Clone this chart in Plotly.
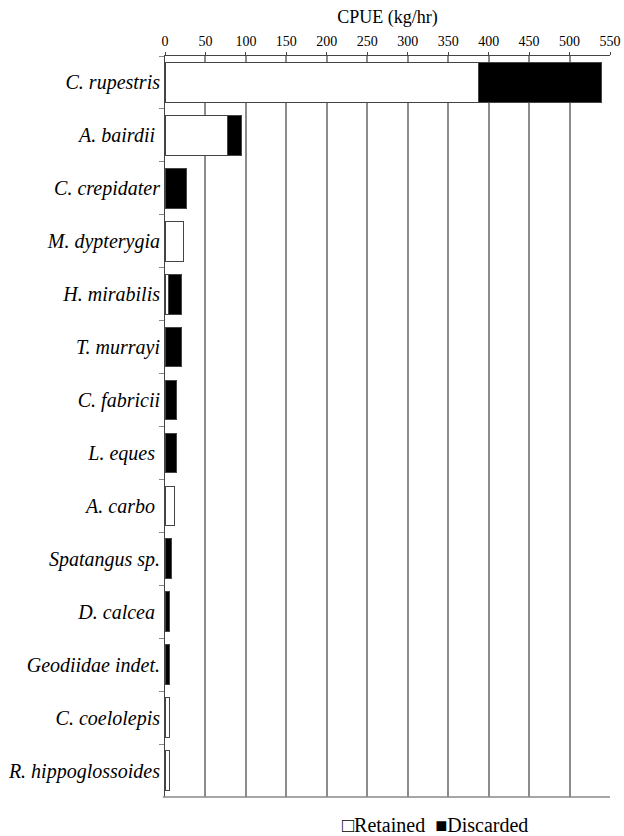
import plotly.graph_objects as go

# Catch per unit effort by species, split into retained and discarded catch
species = [
    "C. rupestris", "A. bairdii\u00a0", "C. crepidater", "M. dypterygia",
    "H. mirabilis", "T. murrayi", "C. fabricii", "L. eques\u00a0",
    "A. carbo\u00a0", "Spatangus sp.", "D. calcea\u00a0", "Geodiidae indet.",
    "C. coelolepis", "R. hippoglossoides",
]
retained = [388, 77, 0, 23, 4, 0, 0, 0, 12, 0, 0, 0, 6, 5]
discarded = [152, 18, 27, 0, 16, 20, 14.5, 14, 0, 8, 5.5, 5.5, 0, 0]
x_ticks = list(range(0, 551, 50))

serif = "Liberation Serif, Times New Roman, serif"

fig = go.Figure()
fig.add_trace(go.Bar(
    y=species, x=retained, orientation="h", name="Retained",
    marker=dict(color="white", line=dict(color="#444444", width=1)),
    width=0.75, showlegend=False,
))
fig.add_trace(go.Bar(
    y=species, x=discarded, orientation="h", name="Discarded",
    marker=dict(color="black", line=dict(color="#444444", width=1)),
    width=0.75, showlegend=False,
))

fig.update_layout(
    width=624, height=836,
    margin=dict(l=165, r=14, t=56, b=39),
    barmode="stack",
    plot_bgcolor="white", paper_bgcolor="white",
    font=dict(family=serif, color="black", size=14),
    xaxis=dict(
        side="top", range=[0, 550], tickvals=x_ticks, automargin=False,
        showgrid=True, gridcolor="#8c8c8c", gridwidth=1.5,
        showline=True, linecolor="#444444", linewidth=1,
        ticks="outside", ticklen=3, tickcolor="#444444",
        tickfont=dict(size=14, family=serif), zeroline=False,
        title=dict(text="CPUE (kg/hr)", font=dict(size=18, family=serif), standoff=6),
    ),
    yaxis=dict(
        categoryorder="array", categoryarray=species, autorange="reversed",
        automargin=False,
        showline=True, linecolor="#444444", linewidth=1,
        ticks="outside", ticklen=5, tickcolor="#888888", tickson="boundaries",
        tickfont=dict(size=20, family=serif, style="italic"),
        showgrid=False,
    ),
    shapes=[dict(
        type="line", xref="paper", yref="paper", x0=-0.005, x1=1, y0=0, y1=0,
        line=dict(color="#888888", width=1.5),
    )],
    annotations=[dict(
        xref="paper", yref="paper", x=0.607, y=-0.038, xanchor="center", yanchor="middle",
        text="\u25a1Retained  \u25a0Discarded", showarrow=False,
        font=dict(size=20, family=serif),
    )],
)

fig.write_html("out.html")
